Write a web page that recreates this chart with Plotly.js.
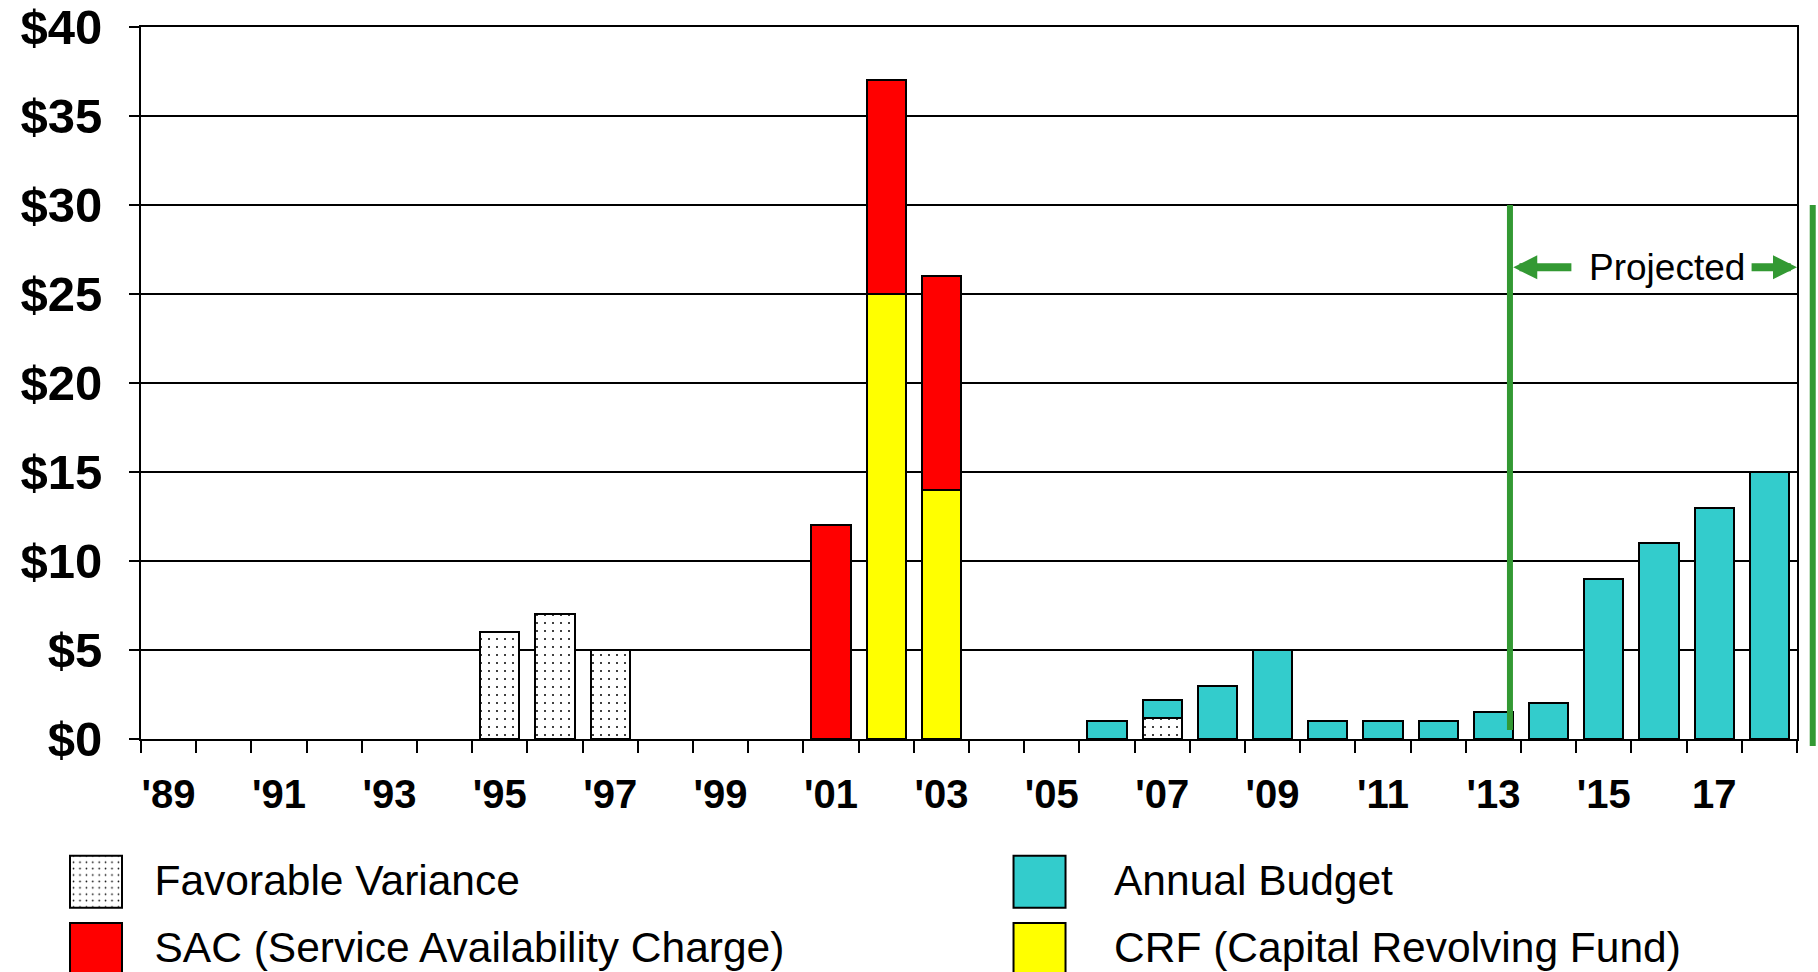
<!DOCTYPE html>
<html>
<head>
<meta charset="utf-8">
<script src="https://cdn.plot.ly/plotly-3.0.1.min.js"></script>
<style>
  html, body { margin: 0; padding: 0; background: #fff; }
  #chart { width: 1818px; height: 972px; }
</style>
</head>
<body>
<div id="chart"></div>
<script>
// Funding by fiscal year, $ millions
const years = [1989, 1990, 1991, 1992, 1993, 1994, 1995, 1996, 1997, 1998,
               1999, 2000, 2001, 2002, 2003, 2004, 2005, 2006, 2007, 2008,
               2009, 2010, 2011, 2012, 2013, 2014, 2015, 2016, 2017, 2018];

const favorableVariance = [null, null, null, null, null, null, 6, 7, 5, null,
                           null, null, null, null, null, null, null, null, 1.2, null,
                           null, null, null, null, null, null, null, null, null, null];

const crf = [null, null, null, null, null, null, null, null, null, null,
             null, null, null, 25, 14, null, null, null, null, null,
             null, null, null, null, null, null, null, null, null, null];

const sac = [null, null, null, null, null, null, null, null, null, null,
             null, null, 12, 12, 12, null, null, null, null, null,
             null, null, null, null, null, null, null, null, null, null];

const annualBudget = [null, null, null, null, null, null, null, null, null, null,
                      null, null, null, null, null, null, null, 1, 1, 3,
                      5, 1, 1, 1, 1.5, 2, 9, 11, 13, 15];

const tickYears = [1989, 1991, 1993, 1995, 1997, 1999, 2001, 2003, 2005, 2007,
                   2009, 2011, 2013, 2015, 2017];
const tickLabels = ["'89", "'91", "'93", "'95", "'97", "'99", "'01", "'03", "'05", "'07",
                    "'09", "'11", "'13", "'15", "17"];

// Start of the projected period and the level of its label
const projectedFrom = 2013.3;
const projectedTo = 2018.5;
const projectedLabelY = 26.5;
const projectedTop = 30;

const FONT = 'Arial, "Liberation Sans", sans-serif';
const GREEN = '#339933';
const OUTLINE = { color: '#000', width: 2 };

const traces = [
  {
    type: 'bar', name: 'Favorable Variance', x: years, y: favorableVariance,
    marker: {
      color: '#fff', line: OUTLINE,
      pattern: { shape: '.', fgcolor: '#000', bgcolor: '#fff', size: 8, solidity: 0.05 }
    },
    legend: 'legend', legendgroup: 'fv', legendrank: 1, hoverinfo: 'x+y+name'
  },
  {
    type: 'bar', name: 'CRF (Capital Revolving Fund)', x: years, y: crf,
    marker: { color: '#ffff00', line: OUTLINE },
    legend: 'legend2', legendgroup: 'crf', legendrank: 2, hoverinfo: 'x+y+name'
  },
  {
    type: 'bar', name: 'SAC (Service Availability Charge)', x: years, y: sac,
    marker: { color: '#ff0000', line: OUTLINE },
    legend: 'legend', legendgroup: 'sac', legendrank: 2, hoverinfo: 'x+y+name'
  },
  {
    type: 'bar', name: 'Annual Budget', x: years, y: annualBudget,
    marker: { color: '#33cccc', line: OUTLINE },
    legend: 'legend2', legendgroup: 'ab', legendrank: 1, hoverinfo: 'x+y+name'
  }
];

const legendCommon = {
  orientation: 'v', xanchor: 'left', yanchor: 'top',
  font: { family: FONT, size: 42.5, color: '#000' },
  bgcolor: 'rgba(0,0,0,0)', borderwidth: 0,
  traceorder: 'grouped', tracegroupgap: 9,
  itemclick: false, itemdoubleclick: false
};

const layout = {
  width: 1818, height: 972,
  margin: { l: 141, r: 21, t: 27, b: 233, pad: 0, autoexpand: false },
  paper_bgcolor: '#fff', plot_bgcolor: '#fff',
  font: { family: FONT, color: '#000' },
  barmode: 'stack', bargap: 0.29,
  showlegend: true,
  xaxis: {
    range: [1988.5, 2018.5], tickmode: 'array', tickvals: tickYears, ticktext: tickLabels,
    ticks: '', showgrid: false, zeroline: false,
    showline: true, linecolor: '#000', linewidth: 2, mirror: true,
    tickfont: { family: FONT, size: 40, weight: 'bold', color: '#000' },
    ticklabelstandoff: 19,
    minor: { tickmode: 'linear', tick0: 1988.5, dtick: 1, ticks: 'outside',
             ticklen: 12, tickwidth: 2, tickcolor: '#000', showgrid: false },
    fixedrange: true
  },
  yaxis: {
    range: [0, 40], tickmode: 'linear', tick0: 0, dtick: 5, tickprefix: '$',
    showgrid: true, gridcolor: '#000', gridwidth: 2, zeroline: false,
    showline: true, linecolor: '#000', linewidth: 2, mirror: true,
    ticks: 'outside', ticklen: 10, tickwidth: 2, tickcolor: '#000',
    tickfont: { family: FONT, size: 49, weight: 'bold', color: '#000' },
    ticklabelstandoff: 17, ticklabeloverflow: 'allow',
    fixedrange: true
  },
  legend: Object.assign({}, legendCommon, { x: -0.0625, y: -0.1476, itemwidth: 107 }),
  legend2: Object.assign({}, legendCommon, { x: 0.4976, y: -0.1476, itemwidth: 139 }),
  shapes: [
    { type: 'line', xref: 'x', yref: 'y', x0: projectedFrom, x1: projectedFrom,
      y0: 0.5, y1: projectedTop, line: { color: GREEN, width: 6 }, layer: 'above' },
    { type: 'line', xref: 'paper', yref: 'paper', x0: 1.0095, x1: 1.0095,
      y0: -0.01, y1: projectedTop / 40, line: { color: GREEN, width: 6 }, layer: 'above' }
  ],
  annotations: [
    { x: 2016.14, y: projectedLabelY, xref: 'x', yref: 'y', text: 'Projected',
      showarrow: false, font: { family: FONT, size: 37, color: '#000' } },
    { x: projectedFrom + 0.06, y: projectedLabelY, ax: 2014.44, ay: projectedLabelY,
      xref: 'x', yref: 'y', axref: 'x', ayref: 'y', text: '', showarrow: true,
      arrowhead: 2, arrowsize: 0.6, arrowwidth: 8, arrowcolor: GREEN, standoff: 0 },
    { x: projectedTo, y: projectedLabelY, ax: 2017.65, ay: projectedLabelY,
      xref: 'x', yref: 'y', axref: 'x', ayref: 'y', text: '', showarrow: true,
      arrowhead: 2, arrowsize: 0.6, arrowwidth: 8, arrowcolor: GREEN, standoff: 0 }
  ]
};

// Legend swatches drawn as large squares, sitting slightly below the text middle
function enlargeSwatches(gd) {
  gd.querySelectorAll('g.legendpoints path').forEach(function (p) {
    p.setAttribute('d', 'M26,29.5H-26V-22.5H26Z');
  });
}

const gd = document.getElementById('chart');
Plotly.newPlot(gd, traces, layout, { displayModeBar: false, staticPlot: true }).then(function () {
  enlargeSwatches(gd);
  gd.on('plotly_afterplot', function () { enlargeSwatches(gd); });
});
</script>
</body>
</html>
